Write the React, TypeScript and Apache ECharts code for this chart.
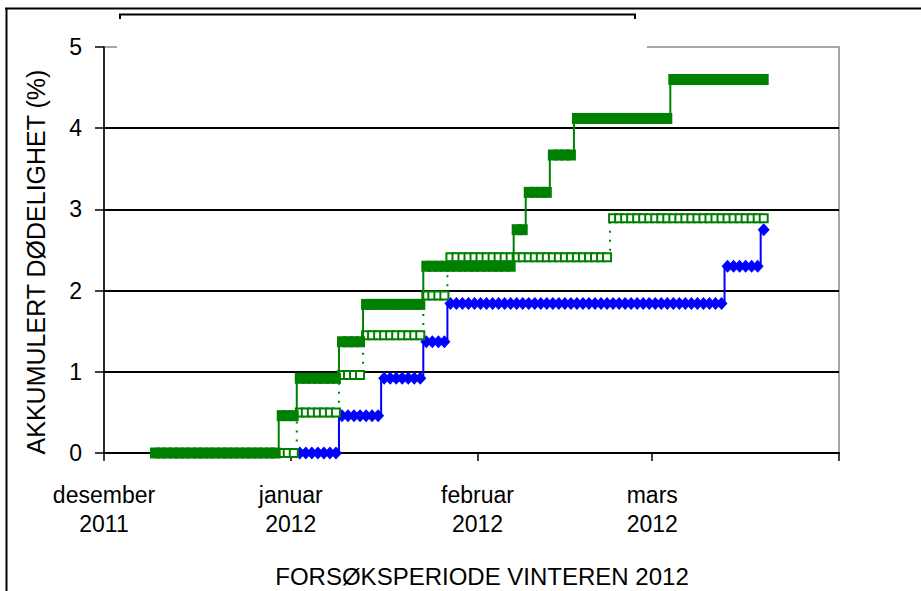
import React, { useEffect, useRef } from "react";
import * as echarts from "echarts";

// Days counted from 1 December 2011 (day 0). Axis ends 1 April 2012 (day 122).
const monthStartDays = [0, 31, 62, 91, 122];
const monthLabels = ["desember\n2011", "januar\n2012", "februar\n2012", "mars\n2012"];

const yTicks = [0, 1, 2, 3, 4, 5];

// Solid green series: day where each level starts, and the level (%)
const solidStartDays = [8, 29, 32, 39, 43, 53, 68, 70, 74, 78, 94];
const solidValues = [0, 0.46, 0.92, 1.37, 1.83, 2.3, 2.75, 3.21, 3.67, 4.12, 4.6];
const solidLastDay = 109;

// Hollow green series
const hollowStartDays = [8, 32, 39, 43, 53, 57, 84];
const hollowValues = [0, 0.5, 0.96, 1.45, 1.94, 2.41, 2.89];
const hollowLastDay = 109;

// Blue series
const blueStartDays = [32, 39, 46, 53, 57, 103, 109];
const blueValues = [0, 0.46, 0.92, 1.37, 1.84, 2.3, 2.75];
const blueLastDay = 109;

const yTitle = "AKKUMULERT DØDELIGHET (%)";
const xTitle = "FORSØKSPERIODE VINTEREN 2012";

// one observation per day, plotted at mid-day
function dailyPoints(startDays: number[], values: number[], lastDay: number) {
  const pts: number[][] = [];
  for (let i = 0; i < startDays.length; i++) {
    const from = startDays[i];
    const to = i + 1 < startDays.length ? startDays[i + 1] - 1 : lastDay;
    for (let d = from; d <= to; d++) pts.push([d + 0.5, values[i]]);
  }
  return pts;
}

const FONT = "'Liberation Sans', Arial, sans-serif";

export default function App() {
  const ref = useRef<HTMLDivElement>(null);
  useEffect(() => {
    document.body.style.margin = "0";
    if (!ref.current) return;
    const chart = echarts.init(ref.current, null, { renderer: "svg" });
    chart.setOption({
      animation: false,
      backgroundColor: "#ffffff",
      grid: {
        left: 104,
        right: 82,
        top: 47,
        bottom: 138,
        show: true,
        borderColor: "#8a8a8a",
        borderWidth: 1.5,
        backgroundColor: "transparent",
      },
      xAxis: {
        type: "value",
        min: monthStartDays[0],
        max: monthStartDays[monthStartDays.length - 1],
        axisLine: { show: true, lineStyle: { color: "#000", width: 2 } },
        axisTick: {
          show: true,
          customValues: monthStartDays,
          length: 8,
          lineStyle: { color: "#000", width: 1.5 },
        },
        axisLabel: {
          customValues: monthStartDays.slice(0, monthLabels.length),
          formatter: (v: number) => {
            const i = monthStartDays.indexOf(Math.round(v));
            return i >= 0 && i < monthLabels.length ? monthLabels[i] : "";
          },
          margin: 27,
          color: "#000",
          fontFamily: FONT,
          fontSize: 23,
          lineHeight: 29,
        },
        splitLine: { show: false },
      },
      yAxis: {
        type: "value",
        min: yTicks[0],
        max: yTicks[yTicks.length - 1],
        interval: 1,
        axisLine: { show: true, lineStyle: { color: "#000", width: 1.5 } },
        axisTick: { show: true, length: 9, lineStyle: { color: "#000", width: 1.5 } },
        axisLabel: {
          margin: 22,
          color: "#000",
          fontFamily: FONT,
          fontSize: 23,
        },
        splitLine: {
          show: true,
          showMinLine: false,
          showMaxLine: false,
          lineStyle: { color: "#000", width: 1.8 },
        },
      },
      series: [
        {
          name: "blå",
          type: "line",
          z: 2,
          step: "middle",
          data: dailyPoints(blueStartDays, blueValues, blueLastDay),
          symbol: "diamond",
          symbolSize: [12, 13],
          itemStyle: { color: "#0000ff" },
          lineStyle: { color: "#0000ff", width: 2 },
        },
        {
          name: "grønn åpen",
          type: "line",
          z: 3,
          step: "middle",
          data: dailyPoints(hollowStartDays, hollowValues, hollowLastDay),
          symbol: "rect",
          symbolSize: 8,
          itemStyle: { color: "#ffffff", borderColor: "#008000", borderWidth: 2 },
          lineStyle: { color: "#008000", width: 2, type: [2, 7] },
        },
        {
          name: "grønn",
          type: "line",
          z: 4,
          step: "middle",
          data: dailyPoints(solidStartDays, solidValues, solidLastDay),
          symbol: "rect",
          symbolSize: [10, 11],
          itemStyle: { color: "#008000" },
          lineStyle: { color: "#008000", width: 2 },
        },
      ],
      graphic: [
        {
          type: "rect",
          z: 100,
          shape: { x: 117, y: 11, width: 530, height: 40 },
          style: { fill: "#ffffff" },
        },
        {
          type: "polyline",
          z: 101,
          shape: { points: [[120, 19], [120, 14.5], [635, 14.5], [635, 19]] },
          style: { stroke: "#000", lineWidth: 2, fill: null },
        },
        {
          type: "line",
          z: 101,
          shape: { x1: 5, y1: 8.5, x2: 921, y2: 8.5 },
          style: { stroke: "#000", lineWidth: 2 },
        },
        {
          type: "line",
          z: 101,
          shape: { x1: 6.5, y1: 8, x2: 6.5, y2: 591 },
          style: { stroke: "#000", lineWidth: 2 },
        },
        {
          type: "text",
          z: 101,
          x: 36,
          y: 262,
          rotation: Math.PI / 2,
          style: {
            text: yTitle,
            font: `25px ${FONT}`,
            fill: "#000",
            textAlign: "center",
            textVerticalAlign: "middle",
          },
        },
        {
          type: "text",
          z: 101,
          x: 482,
          y: 576,
          style: {
            text: xTitle,
            font: `24px ${FONT}`,
            fill: "#000",
            textAlign: "center",
            textVerticalAlign: "middle",
          },
        },
      ],
    });
    return () => chart.dispose();
  }, []);
  return <div ref={ref} style={{ width: 921, height: 591 }} />;
}
